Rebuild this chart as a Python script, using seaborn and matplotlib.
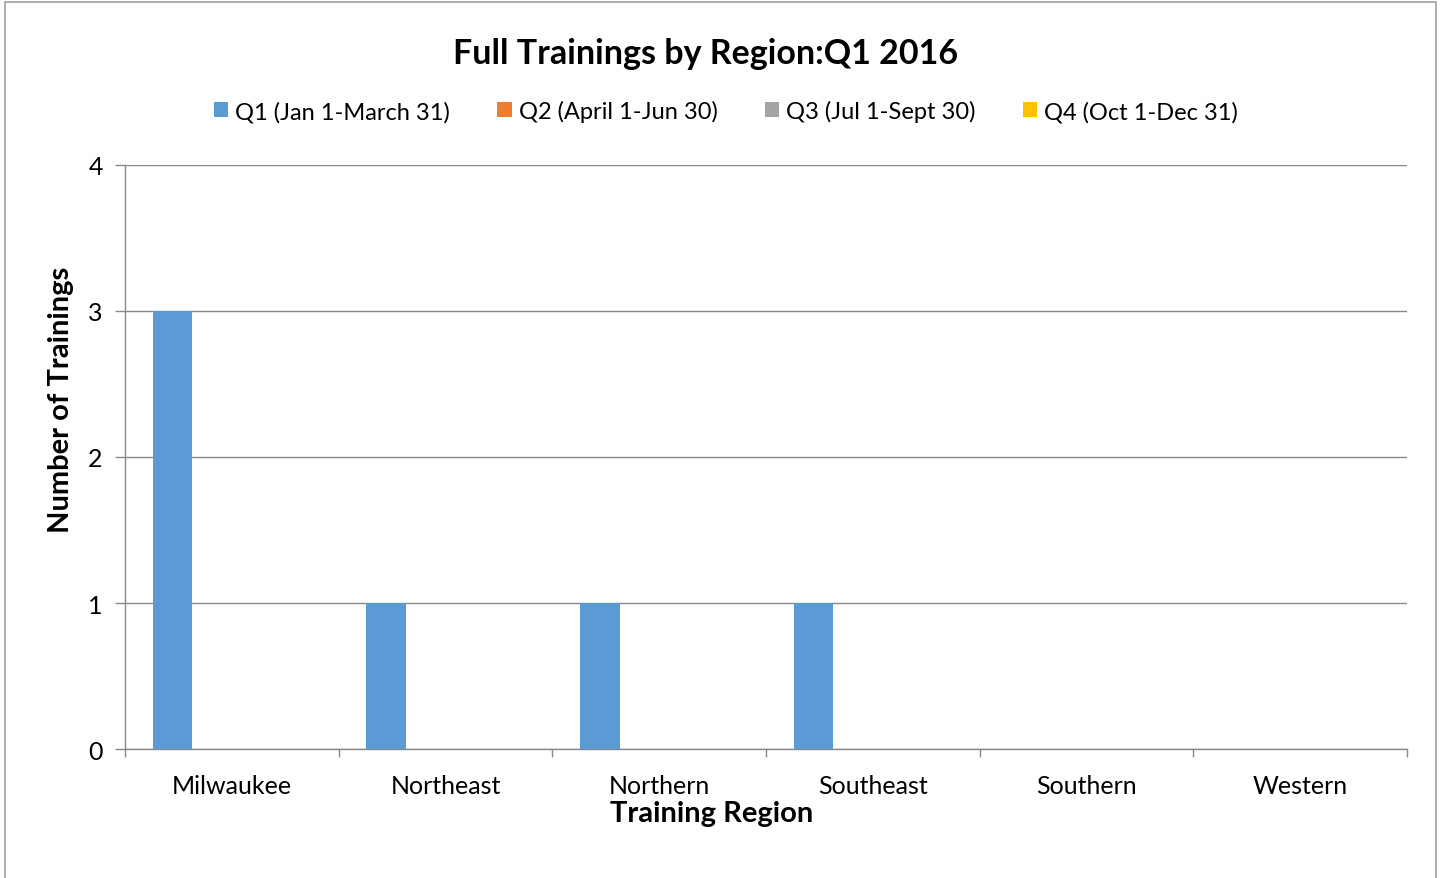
import matplotlib
matplotlib.use("Agg")
import matplotlib.pyplot as plt
from matplotlib.patches import Rectangle
from matplotlib.ticker import FixedLocator
import pandas as pd
import seaborn as sns

# data
regions = ["Milwaukee", "Northeast", "Northern", "Southeast", "Southern", "Western"]
quarters = ["Q1 (Jan 1-March 31)", "Q2 (April 1-Jun 30)",
            "Q3 (Jul 1-Sept 30)", "Q4 (Oct 1-Dec 31)"]
q1 = [3, 1, 1, 1, 0, 0]
q2 = [0, 0, 0, 0, 0, 0]
q3 = [0, 0, 0, 0, 0, 0]
q4 = [0, 0, 0, 0, 0, 0]
colors = ["#5B9BD5", "#ED7D31", "#A5A5A5", "#FFC000"]

rows = []
for q, vals in zip(quarters, [q1, q2, q3, q4]):
    for r, v in zip(regions, vals):
        rows.append({"Region": r, "Quarter": q, "Trainings": v})
df = pd.DataFrame(rows)

sns.set_style("white")
plt.rcParams["font.family"] = ["Lato", "DejaVu Sans"]
plt.rcParams["text.color"] = "black"

fig = plt.figure(figsize=(14.42, 8.79), dpi=100)
ax = fig.add_axes([125 / 1442, 1 - 750 / 879, (1407 - 125) / 1442, (750 - 166) / 879])

sns.barplot(data=df, x="Region", y="Trainings", hue="Quarter",
            order=regions, hue_order=quarters, palette=colors,
            width=0.74, saturation=1, linewidth=0, ax=ax, zorder=3)

handles, labels = ax.get_legend_handles_labels()
ax.get_legend().remove()

ax.set_ylim(0, 4)
ax.set_xlim(-0.5, len(regions) - 0.5)
ax.set_yticks([0, 1, 2, 3, 4])
ax.yaxis.grid(True, color="#888888", lw=1, zorder=0)
ax.set_axisbelow(True)
for s in ["top", "right"]:
    ax.spines[s].set_visible(False)
for s in ["left", "bottom"]:
    ax.spines[s].set_color("#888888")
    ax.spines[s].set_linewidth(1)

ax.tick_params(axis="y", length=7, color="#888888", width=1, labelsize=18, pad=9,
               left=True, labelcolor="black")
ax.tick_params(axis="x", which="major", length=0, labelsize=18, pad=18, labelcolor="black")
ax.xaxis.set_minor_locator(FixedLocator([i - 0.5 for i in range(len(regions) + 1)]))
ax.tick_params(axis="x", which="minor", length=6, color="#888888", width=1, bottom=True)
ax.set_xlabel("")
ax.set_ylabel("")

fig.text(706 / 1442, 1 - 54 / 879, "Full Trainings by Region:Q1 2016",
         ha="center", va="center", fontsize=24.5, fontweight="bold")
fig.text(712 / 1442, 1 - 814 / 879, "Training Region",
         ha="center", va="center", fontsize=21, fontweight="bold")
fig.text(61 / 1442, 1 - 400 / 879, "Number of Trainings", rotation=90,
         ha="center", va="center", fontsize=21, fontweight="bold")

fig.legend(handles, labels, loc="center", bbox_to_anchor=(726 / 1442, 1 - 112 / 879),
           ncol=4, frameon=False, fontsize=17, handlelength=0.6, handleheight=0.6,
           handletextpad=0.3, columnspacing=2.0)

# outer chart border
fig.patches.append(Rectangle((5 / 1442, -0.01), 1431 / 1442, 1 - 2.5 / 879 + 0.01,
                             transform=fig.transFigure, fill=False,
                             edgecolor="#A0A0A0", lw=1.2))

fig.savefig("out.png", dpi=100)
